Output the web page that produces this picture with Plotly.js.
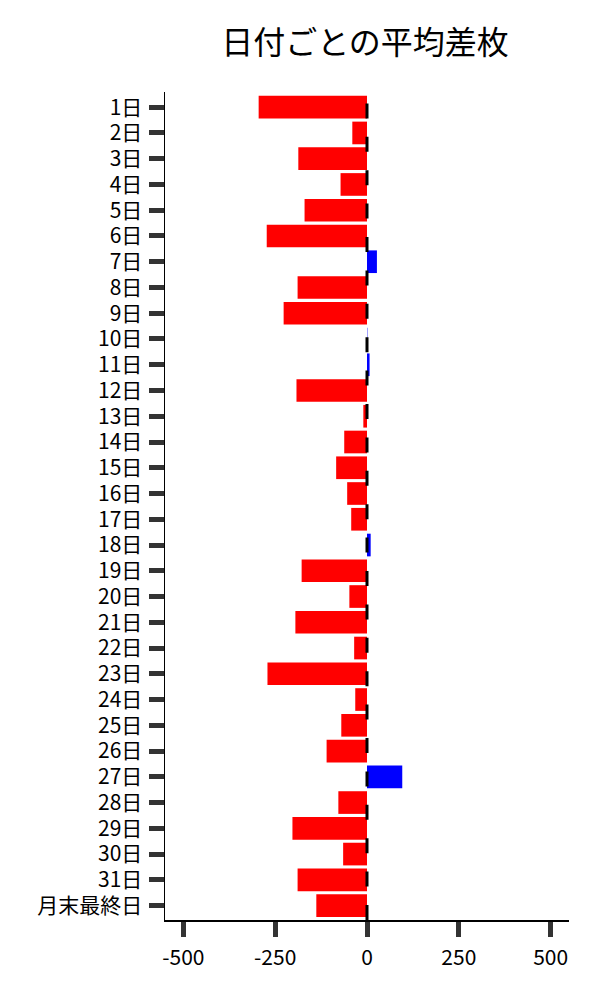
<!DOCTYPE html>
<html>
<head>
<meta charset="utf-8">
<script src="https://cdn.plot.ly/plotly-3.0.1.min.js"></script>
<style>
  html, body { margin: 0; padding: 0; background: #fff; }
  #chart { width: 600px; height: 1000px; }
</style>
</head>
<body>
<div id="chart"></div>
<script>
// 日付ごとの平均差枚
var days = ['1日', '2日', '3日', '4日', '5日', '6日', '7日', '8日', '9日', '10日',
  '11日', '12日', '13日', '14日', '15日', '16日', '17日', '18日', '19日', '20日',
  '21日', '22日', '23日', '24日', '25日', '26日', '27日', '28日', '29日', '30日',
  '31日', '月末最終日'];
var avgDiff = [-295, -40, -187, -72, -170, -273, 27, -189, -227, 1,
  7, -192, -10, -62, -84, -54, -43, 10, -178, -48,
  -195, -35, -271, -32, -70, -110, 96, -78, -203, -65,
  -189, -138];
var xTicks = [-500, -250, 0, 250, 500];

var colors = avgDiff.map(function (v) { return v < 0 ? '#ff0000' : '#0000ff'; });

var font = '"Noto Sans CJK JP", "Noto Sans", sans-serif';

var trace = {
  type: 'bar',
  orientation: 'h',
  x: avgDiff,
  y: days,
  width: 0.88,
  marker: {color: colors, line: {width: 0}},
  hoverinfo: 'x+y'
};

var layout = {
  width: 600,
  height: 1000,
  margin: {l: 165, r: 31, t: 92, b: 80},
  paper_bgcolor: '#fff',
  plot_bgcolor: '#fff',
  font: {family: font, color: '#000'},
  showlegend: false,
  title: {
    text: '日付ごとの平均差枚',
    font: {family: font, size: 32, color: '#000'},
    x: 0.495, xref: 'paper', xanchor: 'center',
    y: 0.957, yref: 'container', yanchor: 'middle'
  },
  xaxis: {
    range: [-550, 550],
    tickvals: xTicks,
    ticktext: xTicks.map(String),
    ticks: 'outside',
    ticklen: 15,
    tickwidth: 5,
    tickcolor: '#333',
    ticklabelstandoff: 3,
    tickfont: {family: font, size: 21, color: '#000'},
    showline: true,
    linecolor: '#000',
    linewidth: 1.5,
    showgrid: false,
    zeroline: false
  },
  yaxis: {
    type: 'category',
    range: [31.56, -0.59],
    ticks: 'outside',
    ticklen: 15,
    tickwidth: 5,
    tickcolor: '#333',
    ticklabelstandoff: 2,
    tickfont: {family: font, size: 21, color: '#000'},
    showline: true,
    linecolor: '#000',
    linewidth: 1.5,
    showgrid: false,
    zeroline: false
  },
  shapes: [{
    type: 'line',
    xref: 'x', yref: 'paper',
    x0: 0, x1: 0, y0: 0, y1: 1,
    layer: 'above',
    line: {color: '#000', width: 3, dash: '15px,18.4px'}
  }]
};

Plotly.newPlot('chart', [trace], layout, {displayModeBar: false, staticPlot: true});
</script>
</body>
</html>
